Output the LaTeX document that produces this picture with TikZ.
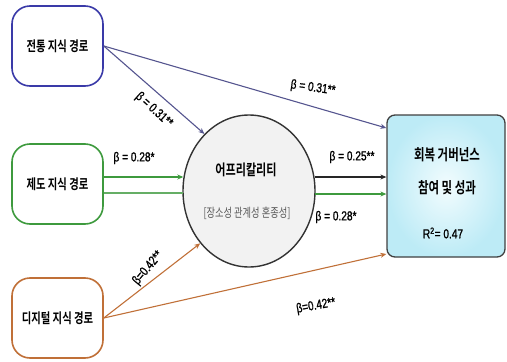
\documentclass[tikz,border=0pt]{standalone}
\usepackage{fontspec}
\newfontfamily\kr[FakeStretch=0.74,UprightFont=* Bold]{Noto Sans CJK KR}
\newfontfamily\krl[FakeStretch=0.74]{Noto Sans CJK KR}
\newfontfamily\lat[FakeStretch=0.78,FakeBold=1.2]{Liberation Sans}
\usetikzlibrary{arrows.meta,shapes.geometric,calc}
\definecolor{cblue}{HTML}{3A3AA8}
\definecolor{cbluel}{HTML}{55558F}
\definecolor{cgreen}{HTML}{3E9A3E}
\definecolor{corange}{HTML}{C07038}
\definecolor{cyanin}{HTML}{F2FCFE}
\definecolor{cyanout}{HTML}{BDEBF6}
\begin{document}
\begin{tikzpicture}[x=1pt,y=-1pt,
  srcbox/.style={draw, line width=1.6pt, rounded corners=18pt, fill=white,
    minimum width=91pt, minimum height=80pt, inner sep=0pt, font=\kr\fontsize{14}{16}\selectfont},
  beta/.style={font=\lat\fontsize{13}{14}\selectfont, inner sep=1pt},
  arr/.style={line width=1.1pt, -{Stealth[length=6pt,width=5pt]}},
  ln/.style={line width=1.1pt}]
\useasboundingbox (0,0) rectangle (507,362);

\node[srcbox, draw=cblue] (b1) at (57.5,46) {전통 지식 경로};
\node[srcbox, draw=cgreen] (b2) at (57.5,184) {제도 지식 경로};
\node[srcbox, draw=corange] (b3) at (57.5,318) {디지털 지식 경로};

\node[ellipse, draw=black!80, line width=1.4pt, fill=black!5,
  minimum width=132pt, minimum height=152pt, inner sep=0pt] (ell) at (249,191) {};
\node[font=\kr\fontsize{15}{16}\selectfont] (et1) at (246,170) {어프리칼리티};
\node[font=\krl\fontsize{12.5}{14}\selectfont, text=black!65] (et2) at (247,213) {[장소성 관계성 혼종성]};

\node[draw=black!75, line width=1.3pt, rounded corners=8pt,
  inner color=cyanin, outer color=cyanout,
  minimum width=118pt, minimum height=142pt, inner sep=0pt] (rb) at (446,186) {};
\node[font=\kr\fontsize{15.5}{17}\selectfont] (rt1) at (447,155) {회복 거버넌스};
\node[font=\kr\fontsize{15.5}{17}\selectfont] (rt2) at (447,188) {참여 및 성과};
\node[font=\lat\fontsize{13}{14}\selectfont] (rt3) at (443,233) {R\textsuperscript{2}= 0.47};

% blue
\draw[arr, draw=cbluel] (b1.east) -- (ell.128);
\draw[arr, draw=cbluel] (b1.east) -- ([yshift=58pt]rb.west);
% green
\draw[arr, draw=cgreen] ([yshift=7pt]b2.east) -- ([yshift=7pt,xshift=1pt]b2.east -| ell.west);
\draw[ln, draw=cgreen!80] ([yshift=-9pt]b2.east) -- ([yshift=-9pt,xshift=1pt]b2.east -| ell.west);
% ellipse to right
\draw[arr, draw=black!85] ([yshift=14pt,xshift=-1pt]ell.east) -- ([yshift=14pt]ell.east -| rb.west);
\draw[arr, draw=cgreen] ([yshift=-3pt,xshift=-1pt]ell.east) -- ([yshift=-3pt]ell.east -| rb.west);
% orange
\draw[arr, draw=corange] (b3.east) -- (ell.227);
\draw[arr, draw=corange] (b3.east) -- ([yshift=-68pt]rb.west);

% labels
\node[beta, rotate=-42] (l1) at (154,110) {β = 0.31**};
\node[beta, rotate=-8] (l2) at (313,88) {β = 0.31**};
\node[beta] (l3) at (134,158) {β = 0.28*};
\node[beta] (l4) at (352,157) {β = 0.25**};
\node[beta] (l5) at (336,217) {β = 0.28*};
\node[beta, rotate=50] (l6) at (148,268) {β=0.42**};
\node[beta, rotate=10] (l7) at (316,306) {β=0.42**};
\end{tikzpicture}
\end{document}
